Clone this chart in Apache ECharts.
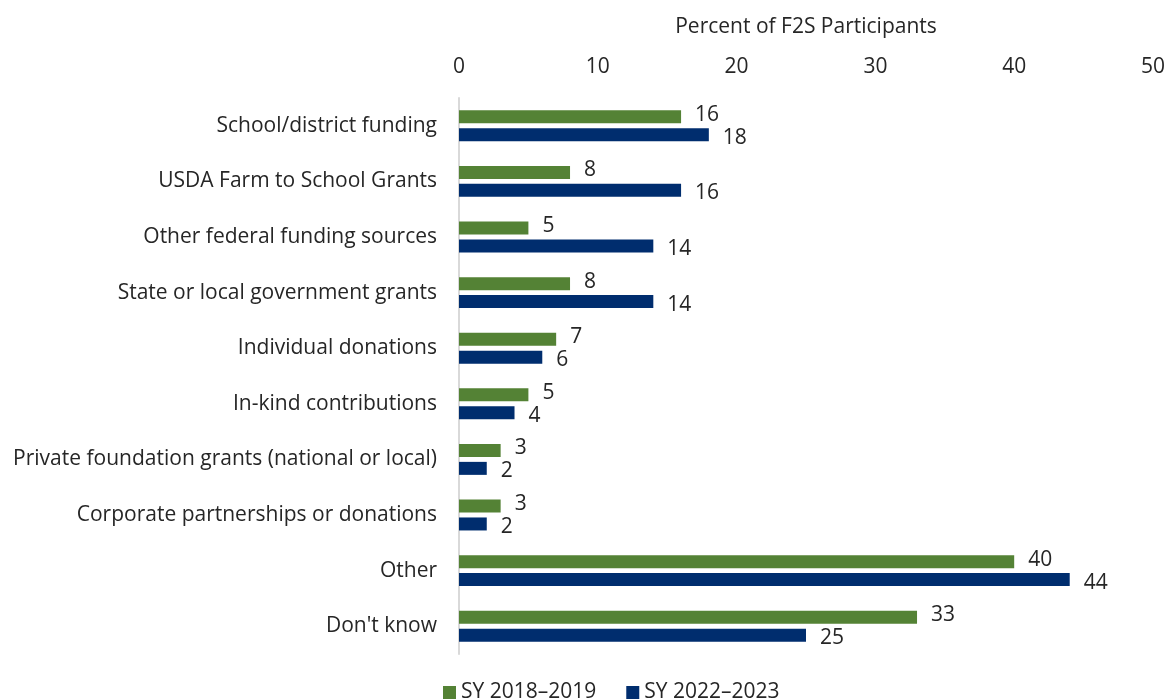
<!DOCTYPE html>
<html>
<head>
<meta charset="utf-8">
<script src="https://cdn.jsdelivr.net/npm/echarts@6/dist/echarts.min.js"></script>
<style>html,body{margin:0;padding:0;background:#fff}#c{width:1168px;height:700px}</style>
</head>
<body>
<div id="c"></div>
<script>
const categories = ["School/district funding","USDA Farm to School Grants","Other federal funding sources","State or local government grants","Individual donations","In-kind contributions","Private foundation grants (national or local)","Corporate partnerships or donations","Other","Don't know"];
const sy2018 = [16, 8, 5, 8, 7, 5, 3, 3, 40, 33];
const sy2022 = [18, 16, 14, 14, 6, 4, 2, 2, 44, 25];
const seriesNames = ["SY 2018\u20132019", "SY 2022\u20132023"];
const FONT = "'Open Sans', sans-serif";
const FS = 21;
const TXT = '#262626';
const chart = echarts.init(document.getElementById('c'));
chart.setOption({
  animation: false,
  textStyle: {fontFamily: FONT},
  grid: {left: 459, right: 13, top: 98, bottom: 46},
  legend: {
    top: 677, left: 438, itemWidth: 13, itemHeight: 13, itemGap: 30,
    icon: 'rect',
    textStyle: {fontSize: FS, color: TXT, fontFamily: FONT},
    data: seriesNames
  },
  xAxis: {
    type: 'value', position: 'top', min: 0, max: 50, interval: 10,
    name: 'Percent of F2S Participants', nameLocation: 'middle', nameGap: 60,
    nameTextStyle: {fontSize: FS, color: TXT, fontFamily: FONT},
    axisLine: {show: false}, axisTick: {show: false}, splitLine: {show: false},
    axisLabel: {fontSize: FS, color: TXT, margin: 20, fontFamily: FONT}
  },
  yAxis: {
    type: 'category', inverse: true, data: categories,
    axisLine: {show: true, lineStyle: {color: '#d9d9d9', width: 2}},
    axisTick: {show: false},
    axisLabel: {fontSize: FS, color: TXT, margin: 22, fontFamily: FONT}
  },
  series: [
    {name: seriesNames[0], type: 'bar', data: sy2018, barWidth: 13, barGap: '38%',
     itemStyle: {color: '#548235'},
     label: {show: true, position: 'right', distance: 14, offset: [0, -2], fontSize: FS, color: TXT, fontFamily: FONT}},
    {name: seriesNames[1], type: 'bar', data: sy2022, barWidth: 13,
     itemStyle: {color: '#002D6E'},
     label: {show: true, position: 'right', distance: 14, offset: [0, 3], fontSize: FS, color: TXT, fontFamily: FONT}}
  ]
});
</script>
</body>
</html>
